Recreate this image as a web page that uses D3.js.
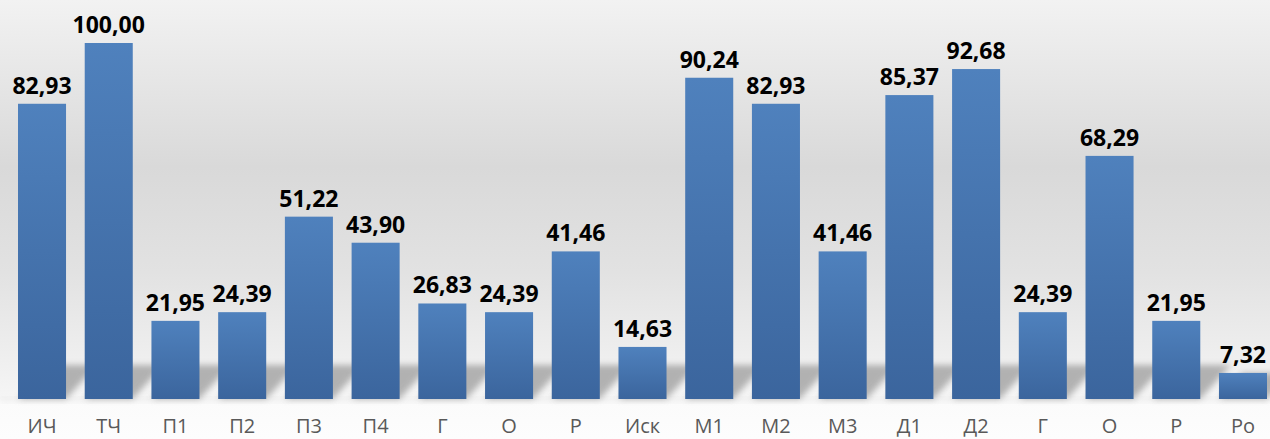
<!DOCTYPE html>
<html>
<head>
<meta charset="utf-8">
<script src="https://cdn.jsdelivr.net/npm/d3@7"></script>
<style>
  html, body { margin: 0; padding: 0; background: #fff; }
  svg { display: block; }
</style>
</head>
<body>
<div id="chart"></div>
<script>
// categories and values
const categories = ["ИЧ", "ТЧ", "П1", "П2", "П3", "П4", "Г", "О", "Р", "Иск",
                    "М1", "М2", "М3", "Д1", "Д2", "Г", "О", "Р", "Ро"];
const values = [82.93, 100.00, 21.95, 24.39, 51.22, 43.90, 26.83, 24.39, 41.46, 14.63,
                90.24, 82.93, 41.46, 85.37, 92.68, 24.39, 68.29, 21.95, 7.32];
const yDomain = [0, 100];

const width = 1270, height = 439;
const baseY = 399, topY = 43;

const svg = d3.select('#chart').append('svg')
  .attr('width', width).attr('height', height);

const defs = svg.append('defs');

// background: grey gradient, lighter floor
const bg = defs.append('linearGradient').attr('id', 'bg')
  .attr('x1', 0).attr('y1', 0).attr('x2', 0).attr('y2', 1);
[[0, '#f2f2f2'], [0.38, '#d9d9d9'], [0.62, '#e2e2e2'], [0.85, '#f1f1f1'], [0.905, '#f5f5f5'],
 [0.915, '#fbfbfb'], [1, '#fdfdfd']]
  .forEach(([o, c]) => bg.append('stop').attr('offset', o).attr('stop-color', c));

const barGrad = defs.append('linearGradient').attr('id', 'barGrad')
  .attr('x1', 0).attr('y1', 0).attr('x2', 0).attr('y2', 1);
barGrad.append('stop').attr('offset', 0).attr('stop-color', '#4f81bd');
barGrad.append('stop').attr('offset', 1).attr('stop-color', '#3b659d');

const blur = defs.append('filter').attr('id', 'blur')
  .attr('x', '-50%').attr('y', '-50%').attr('width', '200%').attr('height', '200%');
blur.append('feGaussianBlur').attr('stdDeviation', 3);

svg.append('rect').attr('width', width).attr('height', height).attr('fill', 'url(#bg)');

const x = d3.scaleBand()
  .domain(d3.range(categories.length))
  .range([18, 1267])
  .paddingInner(0.28)
  .paddingOuter(0);

const y = d3.scaleLinear().domain(yDomain).range([baseY, topY]);

// floor shadow line under bars
svg.append('rect')
  .attr('x', 0).attr('y', baseY - 1).attr('width', width).attr('height', 4)
  .attr('fill', '#e6e6e6').attr('filter', 'url(#blur)').attr('opacity', 0.7);

// soft diagonal shadows behind bars
svg.append('g').selectAll('path')
  .data(values)
  .join('path')
  .attr('d', (d, i) => {
    const x0 = x(i), x1 = x(i) + x.bandwidth();
    const s = Math.min(baseY - y(d), 34);
    const dx = s * 0.9;
    return `M${x0},${baseY} L${x1},${baseY} L${x1 + dx},${baseY - s} L${x0 + dx},${baseY - s} Z`;
  })
  .attr('fill', '#8f8f8f')
  .attr('opacity', 0.65)
  .attr('filter', 'url(#blur)');

// bars
svg.append('g').selectAll('rect')
  .data(values)
  .join('rect')
  .attr('x', (d, i) => x(i))
  .attr('y', d => y(d))
  .attr('width', x.bandwidth())
  .attr('height', d => baseY - y(d))
  .attr('fill', 'url(#barGrad)');

// value labels
const fmt = v => v.toFixed(2).replace('.', ',');
svg.append('g').selectAll('text')
  .data(values)
  .join('text')
  .attr('x', (d, i) => x(i) + x.bandwidth() / 2)
  .attr('y', d => y(d) - 10)
  .attr('text-anchor', 'middle')
  .attr('font-family', '"Open Sans", sans-serif')
  .attr('font-weight', 'bold')
  .attr('font-size', 23)
  .attr('fill', '#000')
  .text(fmt);

// category axis (no line, no ticks)
const xAxis = d3.axisBottom(x).tickSize(0).tickPadding(0).tickFormat(i => categories[i]);
const axisG = svg.append('g').attr('transform', `translate(0,${baseY})`).call(xAxis);
axisG.select('.domain').remove();
axisG.selectAll('text')
  .attr('dy', 0)
  .attr('y', 34)
  .attr('font-family', '"Open Sans", sans-serif')
  .attr('font-size', 20)
  .attr('fill', '#595959');
</script>
</body>
</html>
